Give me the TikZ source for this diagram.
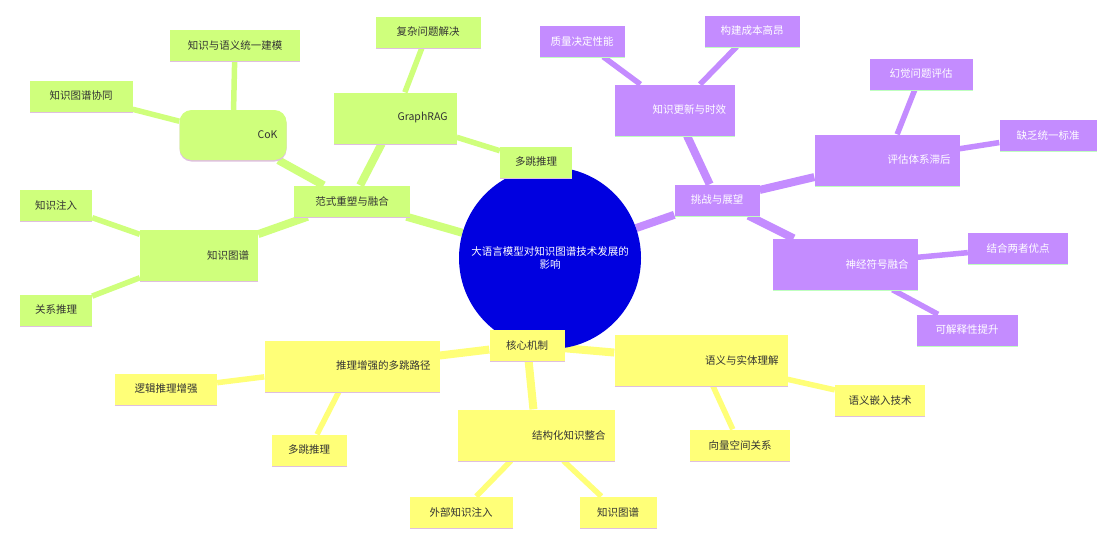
\documentclass[tikz,border=0pt]{standalone}
\usepackage{fontspec}
\setmainfont{Noto Sans CJK SC}
\usepackage{tikz}
\usetikzlibrary{backgrounds}
\usetikzlibrary{shadows}
\usepackage{xcolor}
\definecolor{limeg}{HTML}{CFFF7C}
\definecolor{lilac}{HTML}{C48CFF}
\definecolor{lemon}{HTML}{FFFF78}
\definecolor{deepblue}{HTML}{0000E0}

\begin{document}
\begin{tikzpicture}[x=1pt, y=-1pt,
	leaf/.style={rectangle, minimum height=31pt, inner xsep=9pt, font=\fontsize{10.5}{12}\selectfont},
	bigbox/.style={rectangle, minimum height=51pt, inner xsep=9pt, align=right, font=\fontsize{10.5}{12}\selectfont},
	gshadow/.style={drop shadow={shadow xshift=0pt, shadow yshift=-1.5pt, fill=violet!25, opacity=1}},
	pshadow/.style={drop shadow={shadow xshift=0pt, shadow yshift=-1.5pt, fill=green!25, opacity=1}},
	green/.style={fill=limeg, text=black!80, gshadow},
	purple/.style={fill=lilac, text=white, pshadow},
	yellow/.style={fill=lemon, text=black!80, gshadow},
	trunk/.style={line width=8pt},
	twig/.style={line width=5.5pt}]
	\useasboundingbox (0,0) rectangle (1113,536);

	% centre
	\node[circle, fill=deepblue, minimum size=182pt, text=white, align=center, font=\fontsize{10.5}{13}\selectfont] (root) at (550,258) {大语言模型对知识图谱技术发展的\\影响};

	% green branch
	\node[leaf, green, minimum width=116pt] (fuse) at (352,201) {范式重塑与融合};
	\node[bigbox, green, text width=105pt] (graphrag) at (395,118) {GraphRAG};
	\node[leaf, green, minimum width=105pt] (complex) at (428,32) {复杂问题解决};
	\node[leaf, green, minimum width=72pt] (multihop) at (536,162) {多跳推理};
	\node[bigbox, green, rounded corners=12pt, minimum height=50pt, text width=89pt] (cok) at (233,135) {CoK};
	\node[leaf, green, minimum width=130pt] (unify) at (235,45) {知识与语义统一建模};
	\node[leaf, green, minimum width=103pt] (collab) at (81,96) {知识图谱协同};
	\node[bigbox, green, text width=100pt] (kg) at (199,255) {知识图谱};
	\node[leaf, green, minimum width=72pt] (inject) at (56,205) {知识注入};
	\node[leaf, green, minimum width=72pt] (relation) at (56,310) {关系推理};

	% purple branch
	\node[leaf, purple, minimum width=85pt] (chal) at (717,200) {挑战与展望};
	\node[bigbox, purple, text width=102pt] (update) at (675,110) {知识更新与时效};
	\node[leaf, purple, minimum width=85pt] (quality) at (582,41) {质量决定性能};
	\node[leaf, purple, minimum width=95pt] (cost) at (752,31) {构建成本高昂};
	\node[bigbox, purple, text width=127pt] (eval) at (887,160) {评估体系滞后};
	\node[leaf, purple, minimum width=103pt] (halluc) at (921,74) {幻觉问题评估};
	\node[leaf, purple, minimum width=97pt] (standard) at (1048,135) {缺乏统一标准};
	\node[bigbox, purple, text width=127pt] (neuro) at (845,264) {神经符号融合};
	\node[leaf, purple, minimum width=100pt] (combine) at (1018,248) {结合两者优点};
	\node[leaf, purple, minimum width=101pt] (explain) at (967,330) {可解释性提升};

	% yellow branch
	\node[leaf, yellow, minimum width=75pt] (core) at (527,345) {核心机制};
	\node[bigbox, yellow, text width=157pt] (reason) at (352,366) {推理增强的多跳路径};
	\node[leaf, yellow, minimum width=102pt] (logic) at (166,389) {逻辑推理增强};
	\node[leaf, yellow, minimum width=75pt] (multi) at (309,450) {多跳推理};
	\node[bigbox, yellow, text width=139pt] (struct) at (536,435) {结构化知识整合};
	\node[leaf, yellow, minimum width=103pt] (external) at (461,512) {外部知识注入};
	\node[leaf, yellow, minimum width=77pt] (kgraph) at (618,512) {知识图谱};
	\node[bigbox, yellow, text width=155pt] (sem) at (701,360) {语义与实体理解};
	\node[leaf, yellow, minimum width=90pt] (embed) at (880,400) {语义嵌入技术};
	\node[leaf, yellow, minimum width=100pt] (vector) at (740,445) {向量空间关系};

	% connectors
	\begin{scope}[on background layer]
		\fill[white] (0,0) rectangle (1113,536);
		\draw[trunk, limeg] (root) -- (fuse);
		\draw[trunk, lilac] (root) -- (chal);
		\draw[trunk, lemon] (root) -- (core);
		\foreach \a/\b in {fuse/graphrag, fuse/cok, fuse/kg}{
			\draw[trunk, limeg] (\a) -- (\b);
		}
		\foreach \a/\b in {graphrag/complex, graphrag/multihop, cok/unify, cok/collab, kg/inject, kg/relation}{
			\draw[twig, limeg] (\a) -- (\b);
		}
		\foreach \a/\b in {chal/update, chal/eval, chal/neuro}{
			\draw[trunk, lilac] (\a) -- (\b);
		}
		\foreach \a/\b in {update/quality, update/cost, eval/halluc, eval/standard, neuro/combine, neuro/explain}{
			\draw[twig, lilac] (\a) -- (\b);
		}
		\foreach \a/\b in {core/reason, core/struct, core/sem}{
			\draw[trunk, lemon] (\a) -- (\b);
		}
		\foreach \a/\b in {reason/logic, reason/multi, struct/external, struct/kgraph, sem/embed, sem/vector}{
			\draw[twig, lemon] (\a) -- (\b);
		}
	\end{scope}
\end{tikzpicture}
\end{document}
